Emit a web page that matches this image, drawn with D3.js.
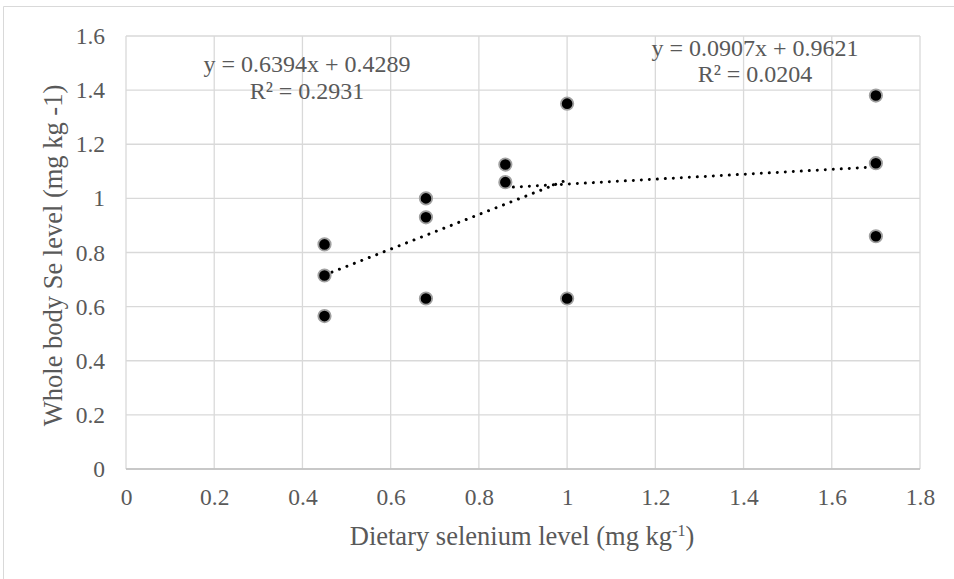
<!DOCTYPE html>
<html><head><meta charset="utf-8">
<script src="https://cdn.jsdelivr.net/npm/d3@7"></script>
<style>body{margin:0;background:#fff}text{font-family:"Liberation Serif","Times New Roman",serif;fill:#595959}</style>
</head><body>
<svg id="c" width="954" height="579"></svg>
<script>
const xTicks = [0,0.2,0.4,0.6,0.8,1,1.2,1.4,1.6,1.8];
const yTicks = [0,0.2,0.4,0.6,0.8,1,1.2,1.4,1.6];
const pointsX = [0.45,0.45,0.45,0.68,0.68,0.68,0.86,0.86,1.0,1.0,1.7,1.7,1.7];
const pointsY = [0.83,0.715,0.565,1.0,0.93,0.63,1.125,1.06,1.35,0.63,1.38,1.13,0.86];
const trend1 = {slope:0.6394, intercept:0.4289, from:0.45, to:1.0, eq:"y = 0.6394x + 0.4289", r2:"R² = 0.2931"};
const trend2 = {slope:0.0907, intercept:0.9621, from:0.86, to:1.7, eq:"y = 0.0907x + 0.9621", r2:"R² = 0.0204"};
const xTitle = "Dietary selenium level (mg kg";
const yTitle = "Whole body Se level (mg kg -1)";

const svg = d3.select("#c");
const L=126,R=920,T=36,B=469;
const x = d3.scaleLinear().domain([0,1.8]).range([L,R]);
const y = d3.scaleLinear().domain([0,1.6]).range([B,T]);

svg.append("path").attr("d",`M3.5,579 V6.5 H954`).attr("fill","none").attr("stroke","#d9d9d9").attr("stroke-width",1);

// grid
svg.append("g").selectAll("line").data(xTicks).join("line")
 .attr("x1",d=>x(d)).attr("x2",d=>x(d)).attr("y1",T).attr("y2",B)
 .attr("stroke","#d9d9d9").attr("stroke-width",1.3);
svg.append("g").selectAll("line").data(yTicks).join("line")
 .attr("y1",d=>y(d)).attr("y2",d=>y(d)).attr("x1",L).attr("x2",R)
 .attr("stroke","#d9d9d9").attr("stroke-width",1.3);
svg.append("line").attr("x1",L).attr("x2",R).attr("y1",B).attr("y2",B).attr("stroke","#bfbfbf").attr("stroke-width",1.3);

const fs = 23.5;
const xa = svg.append("g").attr("transform",`translate(0,${B})`)
 .call(d3.axisBottom(x).tickValues(xTicks).tickFormat(d3.format("~g")).tickSize(0).tickPadding(19));
const ya = svg.append("g").attr("transform",`translate(${L},0)`)
 .call(d3.axisLeft(y).tickValues(yTicks).tickFormat(d3.format("~g")).tickSize(0).tickPadding(21));
[xa,ya].forEach(a=>{a.select(".domain").remove();a.selectAll("text").attr("font-size",fs).attr("font-family","Liberation Serif").attr("fill","#595959");});

// trendlines
[trend1,trend2].forEach(t=>{
  svg.append("line").attr("x1",x(t.from)).attr("y1",y(t.slope*t.from+t.intercept))
   .attr("x2",x(t.to)).attr("y2",y(t.slope*t.to+t.intercept))
   .attr("stroke","#000").attr("stroke-width",3).attr("stroke-linecap","round").attr("stroke-dasharray","0.01 8");
});

// points
svg.append("g").selectAll("circle").data(pointsX.map((v,i)=>[v,pointsY[i]])).join("circle")
 .attr("cx",d=>x(d[0])).attr("cy",d=>y(d[1])).attr("r",6.2)
 .attr("fill","#000").attr("stroke","#a0a0a0").attr("stroke-width",1.8);

// equations
function eqLabel(t,cx,cy){
  const g = svg.append("text").attr("text-anchor","middle").attr("font-size",24);
  g.append("tspan").attr("x",cx).attr("y",cy).text(t.eq);
  g.append("tspan").attr("x",cx).attr("y",cy+26.5).text(t.r2);
}
eqLabel(trend1,307,72);
eqLabel(trend2,755,55.5);

// titles
const xt = svg.append("text").attr("text-anchor","middle").attr("x",522).attr("y",545).attr("font-size",26.5);
xt.append("tspan").text(xTitle);
xt.append("tspan").attr("dy",-9).attr("font-size",16).text("-1");
xt.append("tspan").attr("dy",9).text(")");
svg.append("text").attr("text-anchor","middle").attr("transform",`translate(62,${(T+B)/2+3}) rotate(-90)`).attr("font-size",26.5).text(yTitle);
</script>
</body></html>
